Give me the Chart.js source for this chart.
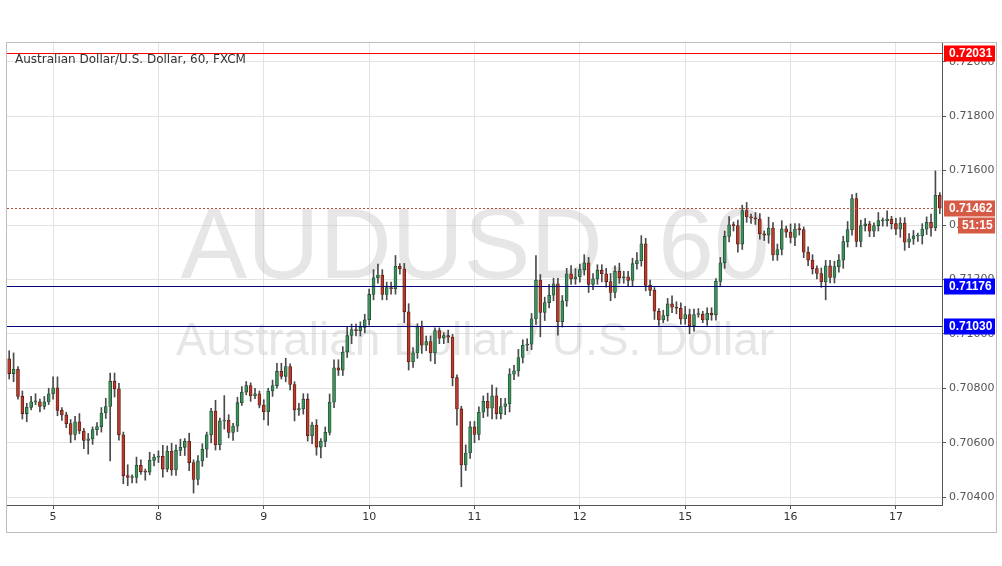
<!DOCTYPE html>
<html><head><meta charset="utf-8">
<script src="https://cdn.jsdelivr.net/npm/chart.js@4/dist/chart.umd.min.js"></script>
<style>html,body{margin:0;padding:0;background:#fff;}#w{position:relative;width:1002px;height:566px;}canvas{display:block;}</style>
</head><body><div id="w"><canvas id="c" width="1002" height="566"></canvas></div>
<script>
// closes in pips above 0.70000
const firstOpen = 90.8;
const closes = [
85.4,87,77,70.7,73,75,75,73.3,75,78,80.2,71.9,70.2,67,63,67.7,64.3,60.8,61.4,64.8,
65.9,70.9,73.3,82.6,79.8,62.9,47.9,47.2,47.2,51.7,49.3,49.2,53.5,54.7,55,50.3,56.8,50,57.2,58.3,
60.5,52.7,46.5,53.3,57.6,62.9,71.6,59.3,68,68.3,63.8,66.1,74.7,78.6,81,77.2,78,73.8,71.4,79,
81,86.2,84.4,88,81.4,72,72.5,76,62.6,66.5,58.4,60.5,63.8,74.9,87.5,
86.7,93.3,99.4,101.6,101.2,102.4,105.2,114.5,120.6,121.6,114.5,117,116.6,124.8,123.9,108.1,89.7,93,102.7,95.8,
97.2,93,101.2,98.4,99.4,98.8,83.9,72.4,51.8,56.2,65.8,63,71.2,75.2,72.7,77.2,70.7,73.3,74.3,85.2,
86.4,91.3,95.8,96.2,105.5,119.8,107.9,111.5,114.2,118.4,104.5,112.1,122.1,120.2,121,123.6,126.1,118.2,120.2,123.4,
122.1,119.2,115.2,123,120.6,121,119.6,125.8,126.9,
133.1,117.8,116,108.3,105.1,106.7,111,109.8,109.4,105.5,107.1,103,107.1,107.3,105.1,107.6,107,119.3,126.1,135.8,
140.1,139.8,133,145.3,143,142.6,142.2,136.8,136.3,138.9,129,131,138.6,137.4,135.4,138.5,138.3,130,127.1,124,
122.2,119.1,125,120.7,124.7,127.1,133.9,138.3,149.7,134,139.8,140.4,137.7,139.8,141.6,141.6,142.2,140.5,138.5,140.7,
133.7,134.9,136,136,138.5,141,138.9,150.9,146.2
];
// upper / lower wick lengths in pips
const upWick = [
3,6,1,2,1.5,2,3,1,2,2,4,4,1,1,1.5,2,3,1,2,1,
1.5,2,3,3,3,2,1,4,1,3,2,1,3,1,2,4,2,3,2,3,
1,3,1,2,2,1,1,4,1,9,2,1,2,2,1.5,1,2,1,2,1,
2,3,3,3,1,1,2,2,2,1,2,1,2,3,3,
3,2,3,2,2,2,2,2,3,4,2,2,2,4,1,2,3,2,1,2,
2,2,1,1,1,2,1,1,1,3,2,2,2,2,3,4,3,3,2,2,
2,3,2,2,2,9,2,2,4,2,2,2,2,3,3,2,3,2,2,2,
2,2,3,2,3,2,2,2,3,
3,2,2,1,1,2,2,3,2,2,3,2,2,2,1,2,2,1,2,2,
3,1,2,2,3,1,2,2,1,4,2,2,3,1,3,2,2,1,2,2,
1,2,2,2,2,2,2,3,1.5,2,2,2,1,1,3,1,3,1,2,2,
2,2,2,1,2,2,3,9,1
];
const loWick = [
2,3,1,2,3,1,1,2,1,1,2,2,2,1.5,3,2,1,3,5,2,
2,2,2,20,3,2,3,3,2,2,1,3,1,2,2,3,1,2,2,2,
3,3,5,2,2,3,3,2,2,3,2,3,2,1,1,2,1,1,3,5,
2,1,1,2,2,4,2,2,2,3,3,4,2,1,2,
2,2,2,3,2,2,2,2,2,2,2,2,2,2,2,4,3,2,2,3,
2,3,4,2,2,2,3,6,8,2,2,3,2,2,3,4,2,2,3,3,
2,2,2,2,2,2,9,3,2,2,5,2,2,2,2,2,2,3,2,2,
3,2,3,2,2,2,2,2,2,
2,2,2,3,2,1,2,2,2,2,2,3,2,1,1,2,2,2,2,2,
2,2,3,2,2,2,2,2,2,3,2,2,2,2,2,3,2,2,2,2,
2,2,6.6,2,2,2,3,2,2,2,2,2,2,2,2,2,2,2,2,3,
3,2,2,2,3,2,3,1,2
];
const dayIdx = [10,34,58,82,106,130,154,178,202];
const dayNames = ['5','8','9','10','11','12','15','16','17'];
const yTicks = [0.7040,0.7060,0.7080,0.7100,0.7120,0.7140,0.7160,0.7180,0.7200];
const redLevel = 0.72031;
const blueLevels = [0.71176, 0.71030];
const lastPrice = 0.71462;
const timerText = '51:15';
const chartTitle = 'Australian Dollar/U.S. Dollar, 60, FXCM';
const wmBig = 'AUDUSD, 60';
const wmSmall = 'Australian Dollar / U.S. Dollar';

const P = v => 0.7 + v/10000;
const labels = closes.map((_, i) => { const k = dayIdx.indexOf(i); return k >= 0 ? dayNames[k] : ''; });
const opens = closes.map((c, i) => i ? closes[i-1] : firstOpen);
const wickData = closes.map((c, i) => [P(Math.min(opens[i], c) - loWick[i]), P(Math.max(opens[i], c) + upWick[i])]);
const bodyData = closes.map((c, i) => { let lo = Math.min(opens[i], c), hi = Math.max(opens[i], c); if (hi - lo < 0.35) hi = lo + 0.35; return [P(lo), P(hi)]; });
const bull = closes.map((c, i) => c >= opens[i]);

const overlay = {
  id: 'overlay',
  beforeDatasetsDraw(ch) {
    const ctx = ch.ctx;
    ctx.save();
    ctx.fillStyle = 'rgba(200,200,200,0.45)';
    ctx.textAlign = 'center'; ctx.textBaseline = 'middle';
    ctx.font = '100px "Liberation Sans", Arial, sans-serif';
    ctx.fillText(wmBig, 475, 250);
    ctx.font = '46px "Liberation Sans", Arial, sans-serif';
    ctx.fillText(wmSmall, 475, 342);
    ctx.restore();
  },
  afterDraw(ch) {
    const ctx = ch.ctx, a = ch.chartArea, y = ch.scales.y;
    ctx.save();
    ctx.strokeStyle = '#bdbdbd'; ctx.lineWidth = 1;
    ctx.strokeRect(6.5, 42.5, 990, 490);
    const line = (v, col, dash) => { const py = Math.round(y.getPixelForValue(v)) + 0.5; ctx.strokeStyle = col; ctx.lineWidth = 1; ctx.setLineDash(dash || []); ctx.beginPath(); ctx.moveTo(a.left, py); ctx.lineTo(a.right, py); ctx.stroke(); ctx.setLineDash([]); return py; };
    const font = 'bold 12px "Liberation Sans", Arial, sans-serif';
    const box = (py, txt, bg) => { ctx.fillStyle = bg; ctx.fillRect(a.right + 2, py - 8, 51, 16); ctx.fillStyle = '#fff'; ctx.font = font; ctx.textAlign = 'left'; ctx.textBaseline = 'middle'; ctx.fillText(txt, a.right + 7, py + 0.5); };
    let py = line(redLevel, '#ff0000'); box(py, redLevel.toFixed(5), '#ff0000');
    blueLevels.forEach(v => { const p = line(v, '#00007a'); box(p, v.toFixed(5), '#0000ff'); });
    py = line(lastPrice, '#b0503a', [2, 2]); box(py, lastPrice.toFixed(5), '#d65a45');
    ctx.fillStyle = '#d65a45'; ctx.fillRect(a.right + 16, py + 9, 37, 16);
    ctx.fillStyle = '#fff'; ctx.font = font; ctx.fillText(timerText, a.right + 20, py + 17.5);
    ctx.fillStyle = '#333'; ctx.font = '12px "DejaVu Sans", sans-serif'; ctx.textAlign = 'left'; ctx.textBaseline = 'middle';
    ctx.fillText(chartTitle, 15, 60);
    ctx.restore();
  }
};

new Chart(document.getElementById('c'), {
  type: 'bar',
  data: {
    labels,
    datasets: [
      { data: wickData, backgroundColor: '#4a4a4a', barThickness: 1, grouped: false, order: 2 },
      { data: bodyData, backgroundColor: bull.map(b => b ? '#3f8f5e' : '#b83b2c'), borderColor: bull.map(b => b ? '#1f4d30' : '#5a1a12'), borderWidth: 0.8, borderSkipped: false, barThickness: 3, grouped: false, order: 1 }
    ]
  },
  options: {
    responsive: false, animation: false,
    layout: { padding: { top: 43, left: 7, right: 5, bottom: 34 } },
    plugins: { legend: { display: false }, tooltip: { enabled: false } },
    scales: {
      x: {
        grid: { offset: false, color: ctx => (labels[ctx.index] ? '#e3e3e3' : 'rgba(0,0,0,0)'), drawTicks: true, tickLength: 4, tickColor: ctx => (labels[ctx.index] ? '#555' : 'rgba(0,0,0,0)') },
        border: { color: '#555' },
        ticks: { autoSkip: false, maxRotation: 0, color: '#333', font: { size: 11, family: 'DejaVu Sans' }, padding: 2, callback: (v, i) => labels[i] },
        afterFit: s => { s.height = 27; }
      },
      y: {
        position: 'right', min: 0.70371, max: 0.72069,
        afterBuildTicks: s => { s.ticks = yTicks.map(v => ({ value: v })); },
        grid: { color: '#e3e3e3', tickLength: 4, tickColor: '#555' },
        border: { color: '#555' },
        ticks: { color: '#555', font: { size: 11, family: 'DejaVu Sans' }, padding: 3, callback: v => Number(v).toFixed(5) },
        afterFit: s => { s.width = 55; }
      }
    }
  },
  plugins: [overlay]
});
</script></body></html>
